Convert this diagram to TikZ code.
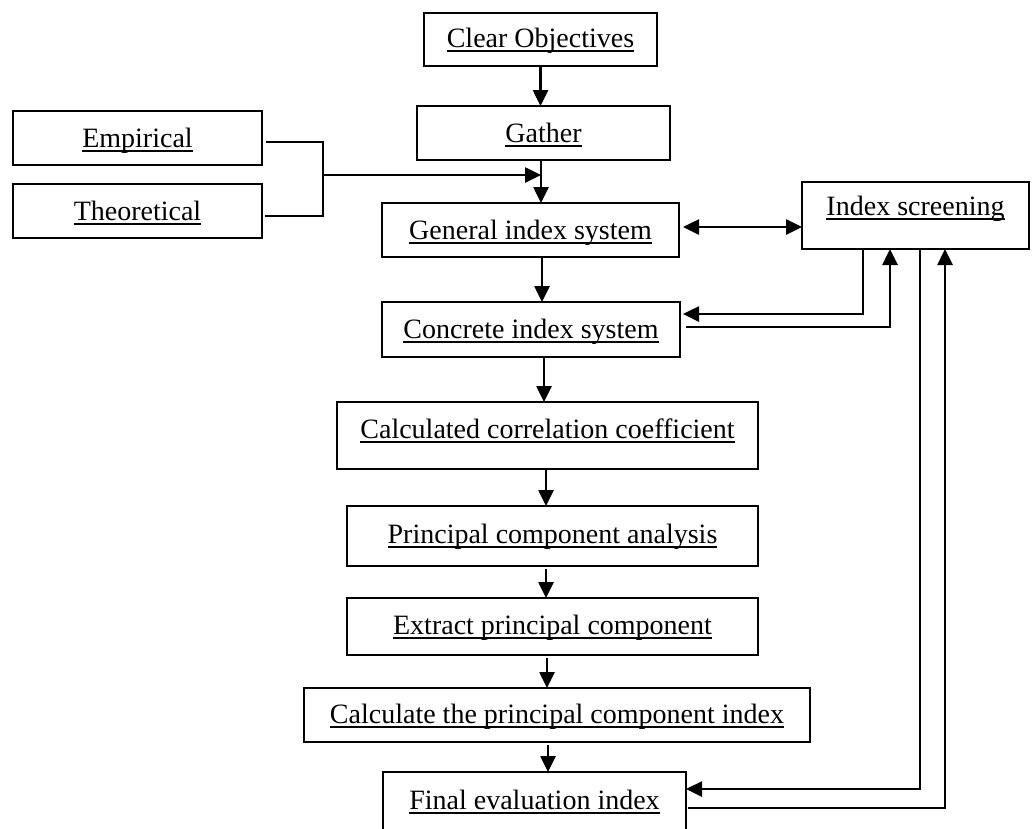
\documentclass[tikz,border=0pt]{standalone}
\usepackage{fontspec}
\setmainfont{Liberation Serif}
\usetikzlibrary{arrows.meta}

% underline set just below the baseline, independent of descenders
\newcommand\ulx[1]{\setbox0=\hbox{#1}\rlap{\rule[-0.175em]{\wd0}{0.07em}}\box0}

\tikzset{
  stepbox/.style={draw, line width=2.6pt, inner sep=0pt, outer sep=0pt,
    text depth=6pt, font=\fontsize{28pt}{32pt}\selectfont},
  arr/.style={line width=2.6pt, -{Triangle[length=16pt,width=15pt]}},
  arrboth/.style={line width=2.6pt, {Triangle[length=16pt,width=15pt]}-{Triangle[length=16pt,width=15pt]}},
  plain/.style={line width=2.6pt},
}

\begin{document}
\begin{tikzpicture}[x=1pt, y=-1pt]
\useasboundingbox (0,0) rectangle (1032,828);
\clip (0,0) rectangle (1032,828);

% boxes
\node[stepbox, minimum width=233pt, minimum height=53pt, text height=22pt] (clear)    at (540.5,39.5) {\ulx{Clear Objectives}};
\node[stepbox, minimum width=253pt, minimum height=54pt, text height=24pt] (gather)   at (543.5,133)  {\ulx{Gather}};
\node[stepbox, minimum width=249pt, minimum height=54pt, text height=25pt] (emp)      at (137.5,138)  {\ulx{Empirical}};
\node[stepbox, minimum width=249pt, minimum height=54pt, text height=25pt] (theo)     at (137.5,211)  {\ulx{Theoretical}};
\node[stepbox, minimum width=297pt, minimum height=54pt, text height=24pt] (general)  at (530.5,230)  {\ulx{General index system}};
\node[stepbox, minimum width=227pt, minimum height=67pt, text height=5pt]  (index)    at (915.5,215.5){\ulx{Index screening}};
\node[stepbox, minimum width=298pt, minimum height=55pt, text height=23pt] (concrete) at (531,329.5)  {\ulx{Concrete index system}};
\node[stepbox, minimum width=421pt, minimum height=67pt, text height=11pt] (calc)     at (547.5,435.5){\ulx{Calculated correlation coefficient}};
\node[stepbox, minimum width=411pt, minimum height=60pt, text height=20pt] (pca)      at (552.5,536)  {\ulx{Principal component analysis}};
\node[stepbox, minimum width=411pt, minimum height=57pt, text height=21pt] (extract)  at (552.5,626.5){\ulx{Extract principal component}};
\node[stepbox, minimum width=506pt, minimum height=54pt, text height=22pt] (calcpci)  at (557,715)    {\ulx{Calculate the principal component index}};
\node[stepbox, minimum width=303pt, minimum height=68pt, text height=12pt] (final)    at (534.5,806)  {\ulx{Final evaluation index}};

% routing points
\coordinate (jn)  at (323,175);
\coordinate (tap) at (541,175);
\coordinate (dbl) at (740,227);
\coordinate (c1)  at (863,314);
\coordinate (c2)  at (890,327);
\coordinate (c3)  at (920,789);
\coordinate (c4)  at (945,808);

% main flow
\draw[arr] (clear.south) -- (clear.south |- gather.north);
\draw[arr] (gather.south -| tap) -- (general.north -| tap);
\draw[arr] ([xshift=11.5pt]general.south) -- ([xshift=11.5pt]general.south |- concrete.north);
\draw[arr] ([xshift=13pt]concrete.south) -- ([xshift=13pt]concrete.south |- calc.north);
\draw[arr] ([xshift=-1.5pt]calc.south) -- ([xshift=-1.5pt]calc.south |- pca.north);
\draw[arr] ([xshift=-6.5pt,yshift=-3pt]pca.south) -- ([xshift=-6.5pt]pca.south |- extract.north);
\draw[arr] ([xshift=-5.5pt,yshift=-3pt]extract.south) -- ([xshift=-5.5pt]extract.south |- calcpci.north);
\draw[arr] ([xshift=-9pt,yshift=-3pt]calcpci.south) -- ([xshift=-9pt]calcpci.south |- final.north);

% empirical and theoretical sources merging into the flow
\draw[plain] ([xshift=4pt,yshift=-4pt]emp.east) -| (jn);
\draw[plain] ([xshift=3pt,yshift=-5pt]theo.east) -| (jn);
\draw[arr] (jn) -- (tap);

% index screening links
\draw[arrboth] ([xshift=4pt]general.east |- dbl) -- (index.west |- dbl);
\draw[arr] (index.south -| c1) |- ([xshift=3pt]concrete.east |- c1);
\draw[arr] ([xshift=6pt]concrete.east |- c2) -| (index.south -| c2);
\draw[arr] (index.south -| c3) |- (final.east |- c3);
\draw[arr] ([xshift=2pt]final.east |- c4) -| (index.south -| c4);
\end{tikzpicture}
\end{document}
